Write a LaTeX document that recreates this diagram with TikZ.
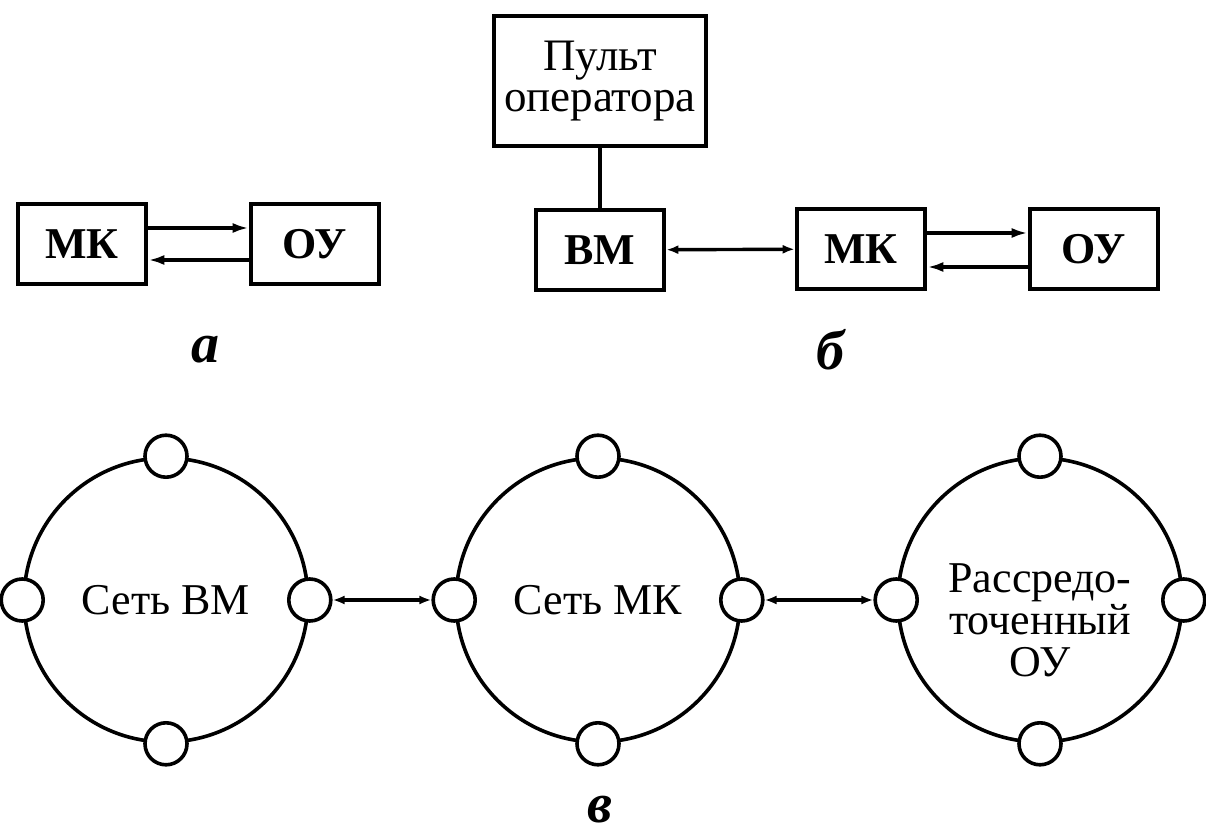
\documentclass[tikz,border=0pt]{standalone}
\usepackage{fontspec}
\setmainfont{Liberation Serif}
\usetikzlibrary{arrows.meta}

\tikzset{
  blk/.style={draw, line width=2.3pt, minimum width=64pt, minimum height=40pt,
    inner sep=0pt, font=\fontsize{22}{24}\selectfont\bfseries},
  ring/.style={draw, circle, line width=1.8pt, minimum size=142pt,
    inner sep=0pt, align=center, font=\fontsize{22}{21}\selectfont},
  port/.style={draw, circle, line width=1.8pt, fill=white, minimum size=21pt, inner sep=0pt},
  sig/.style={line width=1.8pt, -{Latex[length=8pt,width=5pt]}},
  bisig/.style={line width=1.7pt, {Latex[length=6pt,width=4.5pt]}-{Latex[length=6pt,width=4.5pt]}},
  lbl/.style={font=\fontsize{28}{30}\selectfont\bfseries\itshape}
}

\begin{document}
\begin{tikzpicture}[x=0.5pt, y=-0.5pt]
    \useasboundingbox (0,0) rectangle (1206,839);

    % a
    \node[blk] (mkA) at (82,244) {МК};
    \node[blk] (ouA) at (315,244) {ОУ};
    \draw[sig] ([yshift=8pt]mkA.east) -- ([yshift=8pt]ouA.west);
    \draw[sig] ([yshift=-8pt]ouA.west) -- ([yshift=-8pt]mkA.east);
    \node[lbl] (capA) at (205,350) {а};

    % b
    \node[blk, minimum width=106pt, minimum height=65pt, align=center,
      font=\fontsize{22.5}{20.5}\selectfont] (pult) at (600,81) {Пульт\\оператора};
    \node[blk] (vm) at (600,250) {ВМ};
    \node[blk] (mkB) at (861,249) {МК};
    \node[blk] (ouB) at (1094,249) {ОУ};
    \draw[line width=2.3pt] (pult) -- (vm);
    \draw[bisig] (vm) -- (mkB);
    \draw[sig] ([yshift=8pt]mkB.east) -- ([yshift=8pt]ouB.west);
    \draw[sig] ([yshift=-9pt]ouB.west) -- ([yshift=-9pt]mkB.east);
    \node[lbl] (capB) at (830,350) {б};

    % c
    \node[ring] (netVM) at (166,600) {Сеть ВМ};
    \node[ring] (netMK) at (598,600) {Сеть МК};
    \node[ring] (netOU) at (1040,600) {};
    \node[align=center, font=\fontsize{22}{21}\selectfont] (txtOU) at (1040,620) {Рассредо-\\точенный\\ОУ};
    \node[port] (vmN) at (netVM.north) {};
    \node[port] (vmS) at (netVM.south) {};
    \node[port] (vmW) at (netVM.west) {};
    \node[port] (vmE) at (netVM.east) {};
    \node[port] (mkN) at (netMK.north) {};
    \node[port] (mkS) at (netMK.south) {};
    \node[port] (mkW) at (netMK.west) {};
    \node[port] (mkE) at (netMK.east) {};
    \node[port] (ouN) at (netOU.north) {};
    \node[port] (ouS) at (netOU.south) {};
    \node[port] (ouW) at (netOU.west) {};
    \node[port] (ouE) at (netOU.east) {};
    \draw[bisig] (vmE) -- (mkW);
    \draw[bisig] (mkE) -- (ouW);
    \node[lbl] (capC) at (600,810) {в};
\end{tikzpicture}
\end{document}
